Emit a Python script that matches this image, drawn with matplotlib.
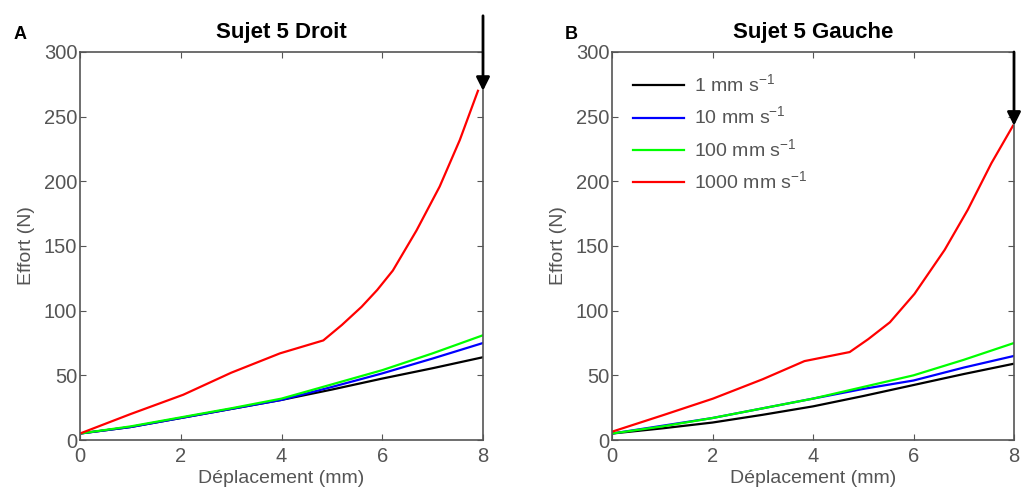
import matplotlib
matplotlib.use('Agg')
import matplotlib.pyplot as plt

plt.rcParams['font.family'] = ['Liberation Sans', 'DejaVu Sans']

# Sujet 5 Droit (A)
xa_red = [0, 1, 2.05, 3, 3.97, 4.83, 5.2, 5.59, 5.9, 6.21, 6.68, 7.14, 7.54, 7.9]
ya_red = [5, 20, 35, 52, 67, 77, 89, 103, 116, 131, 162, 196, 232, 270]
xa_slow = [0, 1, 2, 3, 4, 5, 6, 7, 8]
ya_black = [5, 10, 17, 24, 31, 39, 47.5, 55.5, 64]
ya_blue = [5, 10, 17, 24, 31, 41, 51.5, 63, 75]
ya_green = [5, 10.5, 17.5, 24.5, 32, 43, 54, 67, 81]
arrow_a = 270

# Sujet 5 Gauche (B)
xb_red = [0, 1, 2.01, 3, 3.83, 4.73, 5.1, 5.53, 6.02, 6.62, 7.08, 7.55, 7.98]
yb_red = [6.4, 19, 32, 47, 61, 68, 78, 91, 113, 147, 178, 214, 243]
xb_slow = [0, 1, 2, 3, 4, 5, 6, 7, 8]
yb_black = [5, 9, 13.5, 19.5, 26, 34, 42.5, 51, 59]
yb_blue = [5, 11, 17, 24.5, 32, 39.5, 46, 56, 65]
yb_green = [5, 10.5, 17, 24.5, 32, 41, 50, 62, 75]
arrow_b = 243

labels = ['1 mm s$^{\\mathregular{-1}}$', '10 mm s$^{\\mathregular{-1}}$',
          '100 mm s$^{\\mathregular{-1}}$', '1000 mm s$^{\\mathregular{-1}}$']
colors = ['black', '#0000ff', '#00ff00', '#ff0000']

fig = plt.figure(figsize=(10.22, 4.96), dpi=100)
ax1 = fig.add_axes([80 / 1022, 1 - 440 / 496, 403 / 1022, 388 / 496])
ax2 = fig.add_axes([612 / 1022, 1 - 440 / 496, 402 / 1022, 388 / 496])

gray = '#555555'
panels = [
    (ax1, xa_slow, [ya_black, ya_blue, ya_green], xa_red, ya_red, arrow_a, 328, 'Sujet 5 Droit', 'A', -0.165),
    (ax2, xb_slow, [yb_black, yb_blue, yb_green], xb_red, yb_red, arrow_b, 300, 'Sujet 5 Gauche', 'B', -0.118),
]
for ax, xs, slow, xr, yr, arr, arr_top, title, letter, lx in panels:
    for y, c, lab in zip(slow, colors[:3], labels[:3]):
        ax.plot(xs, y, color=c, lw=1.6, label=lab)
    ax.plot(xr, yr, color=colors[3], lw=1.6, label=labels[3])
    ax.set_xlim(0, 8)
    ax.set_ylim(0, 300)
    ax.set_xticks([0, 2, 4, 6, 8])
    ax.set_yticks([0, 50, 100, 150, 200, 250, 300])
    ax.tick_params(direction='in', top=True, right=True, length=4, colors=gray,
                   labelsize=14.5, labelcolor=gray)
    ax.tick_params(axis='x', pad=5)
    ax.tick_params(axis='y', pad=2)
    for s in ax.spines.values():
        s.set_color(gray)
        s.set_linewidth(1.2)
    ax.set_xlabel('Déplacement (mm)', fontsize=14, color=gray, labelpad=3)
    ax.set_ylabel('Effort (N)', fontsize=14, color=gray, labelpad=6)
    ax.set_title(title, fontsize=16, fontweight='bold', pad=10)
    ax.annotate('', xy=(8, arr), xytext=(8, arr_top),
                arrowprops=dict(arrowstyle='-|>', color='black', lw=2,
                                mutation_scale=20, shrinkA=0, shrinkB=0),
                annotation_clip=False)
    ax.text(lx, 1.045, letter, transform=ax.transAxes,
            fontsize=13, fontweight='bold', ha='left', va='center')

ax2.legend(loc='upper left', frameon=False, fontsize=14, handlelength=2.6,
           labelspacing=0.5, borderaxespad=0.7, handletextpad=0.5, labelcolor=gray)

fig.savefig('out.png', dpi=100)
